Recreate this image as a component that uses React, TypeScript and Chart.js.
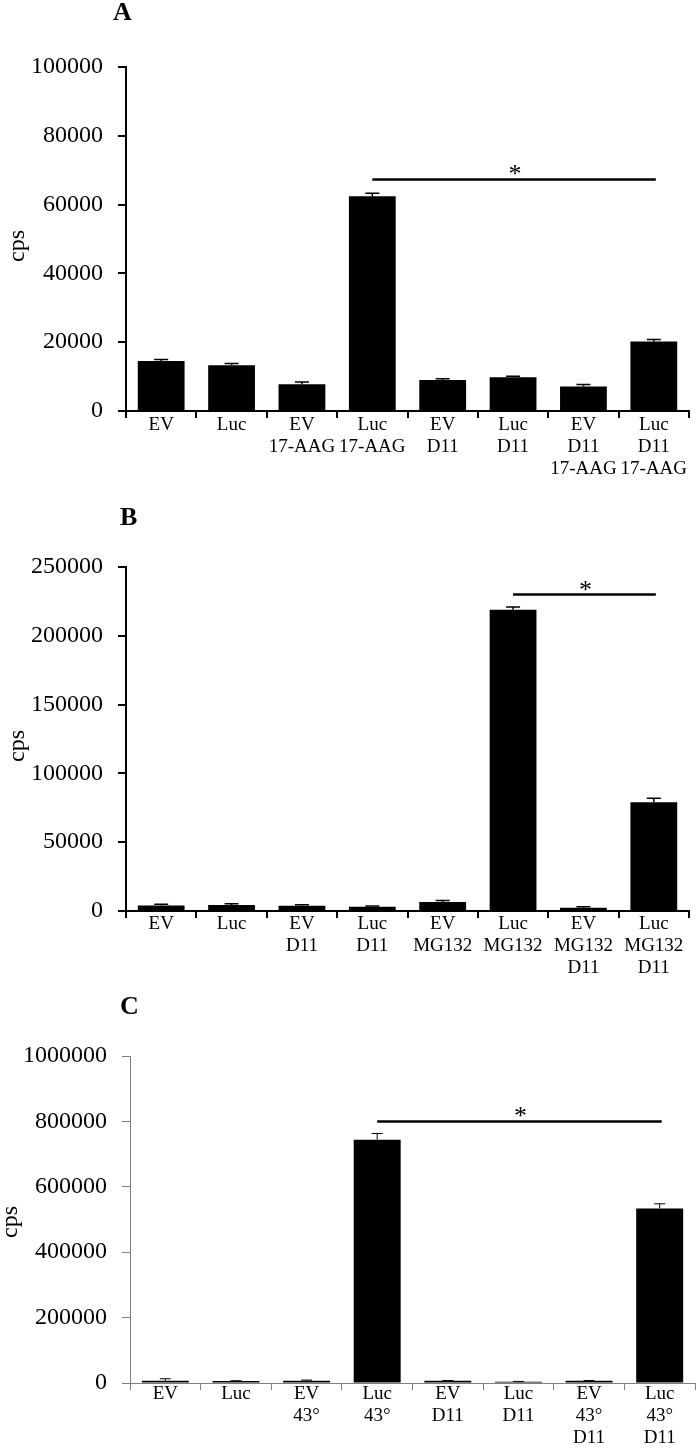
import React, { useEffect, useRef } from "react";
import { Chart, registerables } from "chart.js";

Chart.register(...registerables);

const SERIF = '"Liberation Serif", "Times New Roman", Times, serif';

// ---------- Panel A ----------
const categoriesA = [
  ["EV"], ["Luc"], ["EV", "17-AAG"], ["Luc", "17-AAG"],
  ["EV", "D11"], ["Luc", "D11"], ["EV", "D11", "17-AAG"], ["Luc", "D11", "17-AAG"],
];
const valuesA = [14500, 13300, 7800, 62400, 9000, 9800, 7150, 20200];
const errorsA = [500, 500, 600, 900, 400, 300, 550, 600];
const yTicksA = [0, 20000, 40000, 60000, 80000, 100000];
const sigA = [3, 7, 67300];

// ---------- Panel B ----------
const categoriesB = [
  ["EV"], ["Luc"], ["EV", "D11"], ["Luc", "D11"],
  ["EV", "MG132"], ["Luc", "MG132"], ["EV", "MG132", "D11"], ["Luc", "MG132", "D11"],
];
const valuesB = [4000, 4300, 3800, 3000, 6500, 219000, 2400, 79000];
const errorsB = [900, 1000, 800, 700, 1200, 2000, 600, 3000];
const yTicksB = [0, 50000, 100000, 150000, 200000, 250000];
const sigB = [5, 7, 230000];

// ---------- Panel C ----------
const categoriesC = [
  ["EV"], ["Luc"], ["EV", "43°"], ["Luc", "43°"],
  ["EV", "D11"], ["Luc", "D11"], ["EV", "43°", "D11"], ["Luc", "43°", "D11"],
];
const valuesC = [7000, 6000, 6500, 744000, 6500, 4000, 6500, 534000];
const errorsC = [6000, 1000, 2500, 19000, 1000, 800, 1000, 14000];
const yTicksC = [0, 200000, 400000, 600000, 800000, 1000000];
const sigC = [3, 7, 800000];

type Panel = {
  letter: string;
  labels: string[][];
  values: number[];
  errors: number[];
  ticks: number[];
  sig: number[];
  canvasTop: number;
  canvasH: number;
  padTop: number;
  padRight: number;
  yAxisW: number;
  xAxisH: number;
  xPad: number;
  axisColor: string;
  axisWidth: number;
  errWidth: number;
  capW: number;
  letterX: number;
  letterY: number;
  cpsX: number;
  cpsY: number;
};

const panels: Panel[] = [
  {
    letter: "A", labels: categoriesA, values: valuesA, errors: errorsA, ticks: yTicksA, sig: sigA,
    canvasTop: 0, canvasH: 490, padTop: 67, padRight: 8, yAxisW: 126, xAxisH: 79, xPad: -4,
    axisColor: "#000", axisWidth: 2, errWidth: 1.5, capW: 14,
    letterX: 113, letterY: 13, cpsX: 24, cpsY: 246,
  },
  {
    letter: "B", labels: categoriesB, values: valuesB, errors: errorsB, ticks: yTicksB, sig: sigB,
    canvasTop: 490, canvasH: 500, padTop: 77, padRight: 8, yAxisW: 126, xAxisH: 79, xPad: -5,
    axisColor: "#000", axisWidth: 2, errWidth: 1.5, capW: 14,
    letterX: 120, letterY: 28, cpsX: 24, cpsY: 256,
  },
  {
    letter: "C", labels: categoriesC, values: valuesC, errors: errorsC, ticks: yTicksC, sig: sigC,
    canvasTop: 990, canvasH: 458, padTop: 66, padRight: 2, yAxisW: 130, xAxisH: 65, xPad: -7,
    axisColor: "#7f7f7f", axisWidth: 1, errWidth: 1, capW: 11,
    letterX: 120, letterY: 17, cpsX: 17, cpsY: 232,
  },
];

function buildChart(canvas: HTMLCanvasElement, p: Panel) {
  const overlay = {
    id: "overlay" + p.letter,
    afterDatasetsDraw(chart: any) {
      const ctx = chart.ctx as CanvasRenderingContext2D;
      const xs = chart.scales.x;
      const ys = chart.scales.y;
      ctx.save();
      // error bars (upper half)
      ctx.strokeStyle = "#000";
      ctx.lineWidth = p.errWidth;
      p.values.forEach((v, i) => {
        const x = xs.getPixelForValue(i);
        const y0 = ys.getPixelForValue(v);
        const y1 = ys.getPixelForValue(v + p.errors[i]);
        ctx.beginPath();
        ctx.moveTo(x, y0);
        ctx.lineTo(x, y1);
        ctx.moveTo(x - p.capW / 2, y1);
        ctx.lineTo(x + p.capW / 2, y1);
        ctx.stroke();
      });
      // significance bracket
      const [a, b, sv] = p.sig;
      const xa = xs.getPixelForValue(a);
      const xb = xs.getPixelForValue(b) + 2;
      const ysig = ys.getPixelForValue(sv);
      ctx.lineWidth = 2.5;
      ctx.beginPath();
      ctx.moveTo(xa, ysig);
      ctx.lineTo(xb, ysig);
      ctx.stroke();
      ctx.fillStyle = "#000";
      ctx.font = `26px ${SERIF}`;
      ctx.textAlign = "center";
      ctx.textBaseline = "alphabetic";
      ctx.fillText("*", (xa + xb) / 2 + 1, ysig + 3);
      ctx.restore();
    },
    afterDraw(chart: any) {
      const ctx = chart.ctx as CanvasRenderingContext2D;
      ctx.save();
      ctx.fillStyle = "#000";
      ctx.font = `bold 26px ${SERIF}`;
      ctx.textAlign = "left";
      ctx.textBaseline = "middle";
      ctx.fillText(p.letter, p.letterX, p.letterY);
      ctx.translate(p.cpsX, p.cpsY);
      ctx.rotate(-Math.PI / 2);
      ctx.font = `24px ${SERIF}`;
      ctx.textAlign = "center";
      ctx.textBaseline = "alphabetic";
      ctx.fillText("cps", 0, 0);
      ctx.restore();
    },
  };

  return new Chart(canvas, {
    type: "bar",
    data: {
      labels: p.labels as any,
      datasets: [
        {
          data: p.values,
          backgroundColor: "#000",
          borderWidth: 0,
          barPercentage: 0.665,
          categoryPercentage: 1,
        },
      ],
    },
    options: {
      animation: false,
      responsive: false,
      devicePixelRatio: 1,
      layout: { padding: { left: 0, top: p.padTop, right: p.padRight, bottom: 0 } },
      plugins: {
        legend: { display: false },
        tooltip: { enabled: false },
        title: { display: false },
      },
      scales: {
        x: {
          offset: true,
          grid: {
            display: true,
            drawOnChartArea: false,
            drawTicks: true,
            tickLength: 7,
            color: p.axisColor,
            lineWidth: p.axisWidth,
            offset: true,
          },
          border: { display: true, color: p.axisColor, width: p.axisWidth },
          ticks: {
            autoSkip: false,
            maxRotation: 0,
            minRotation: 0,
            padding: p.xPad,
            color: "#000",
            font: { family: SERIF, size: 19, lineHeight: 22 / 19 },
          },
          afterFit: (s: any) => {
            s.height = p.xAxisH;
          },
        },
        y: {
          min: 0,
          max: p.ticks[p.ticks.length - 1],
          afterBuildTicks: (s: any) => {
            s.ticks = p.ticks.map((v) => ({ value: v }));
          },
          ticks: {
            padding: 15,
            color: "#000",
            font: { family: SERIF, size: 24 },
            callback: (v: any) => String(v),
          },
          grid: {
            drawOnChartArea: false,
            drawTicks: true,
            tickLength: 8,
            color: p.axisColor,
            lineWidth: p.axisWidth,
          },
          border: { display: true, color: p.axisColor, width: p.axisWidth },
          afterFit: (s: any) => {
            s.width = p.yAxisW;
          },
        },
      },
    } as any,
    plugins: [overlay],
  });
}

export default function App() {
  const r0 = useRef<HTMLCanvasElement>(null);
  const r1 = useRef<HTMLCanvasElement>(null);
  const r2 = useRef<HTMLCanvasElement>(null);
  const refs = [r0, r1, r2];

  useEffect(() => {
    const charts = panels.map((p, i) => buildChart(refs[i].current as HTMLCanvasElement, p));
    return () => charts.forEach((c) => c.destroy());
  }, []);

  return (
    <div
      style={{
        position: "absolute",
        left: 0,
        top: 0,
        width: 697,
        height: 1448,
        background: "#fff",
        overflow: "hidden",
      }}
    >
      {panels.map((p, i) => (
        <canvas
          key={p.letter}
          ref={refs[i]}
          width={697}
          height={p.canvasH}
          style={{
            position: "absolute",
            left: 0,
            top: p.canvasTop,
            width: 697,
            height: p.canvasH,
            display: "block",
          }}
        />
      ))}
    </div>
  );
}
